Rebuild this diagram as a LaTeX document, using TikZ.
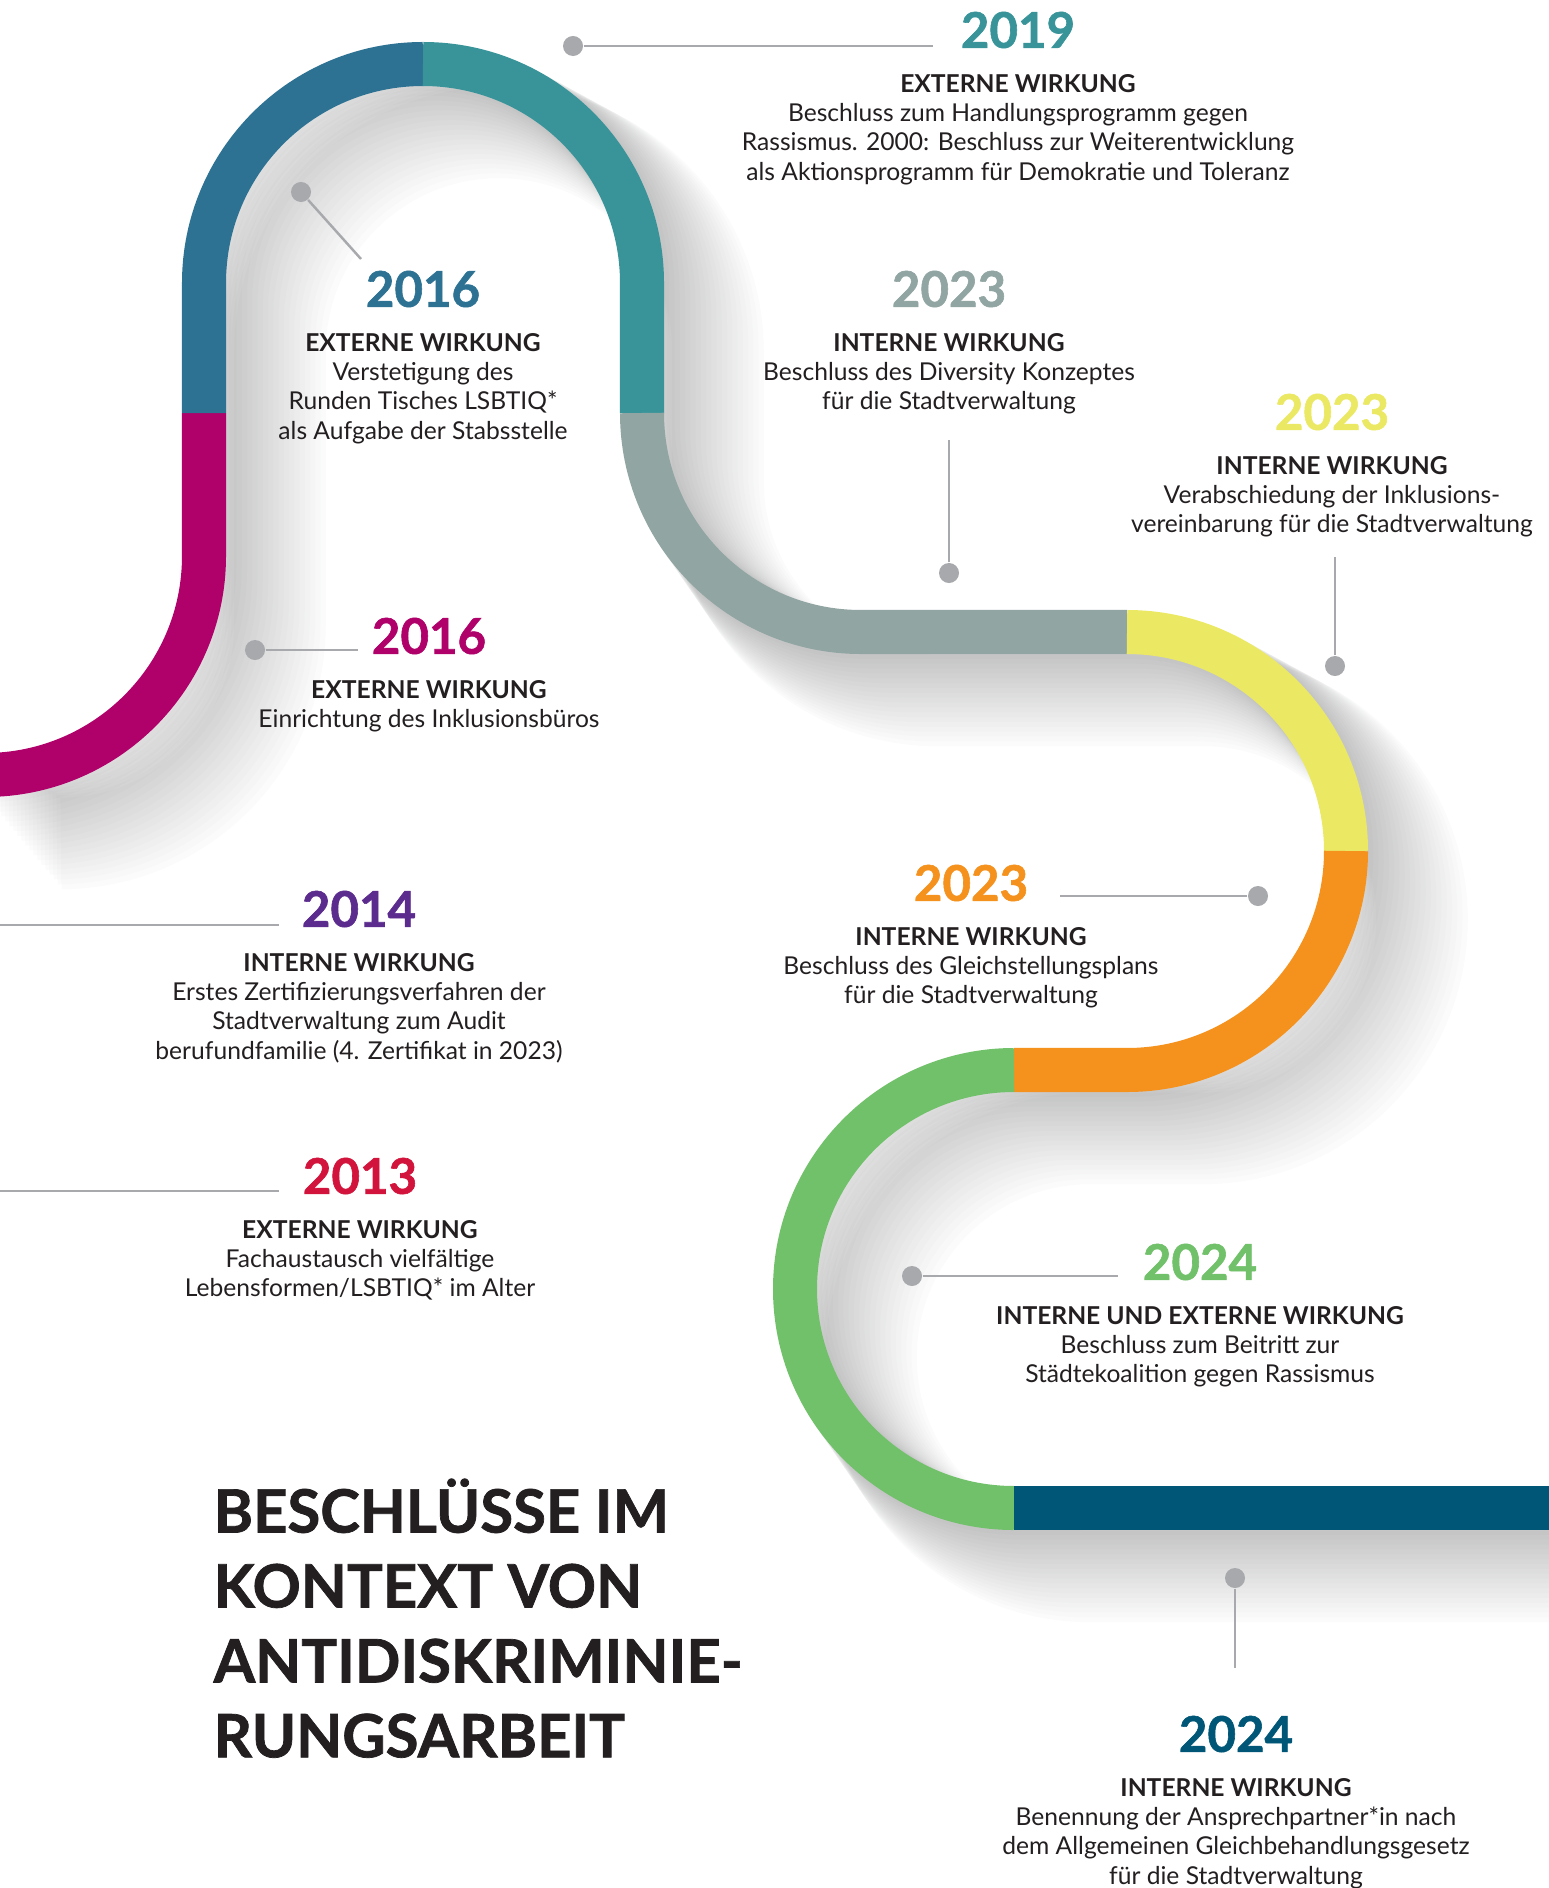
\documentclass[tikz,border=0pt]{standalone}
\usepackage{fontspec}
\setmainfont{Lato}
\newfontfamily\heavyFont[FakeBold=1.2]{Lato}
\usepackage{tikz}
\usetikzlibrary{positioning}

\definecolor{bandBlue}{RGB}{46,114,147}
\definecolor{bandTeal}{RGB}{56,148,153}
\definecolor{bandPink}{RGB}{176,0,106}
\definecolor{bandGrey}{RGB}{145,165,163}
\definecolor{bandYellow}{RGB}{235,233,99}
\definecolor{bandOrange}{RGB}{245,146,30}
\definecolor{bandGreen}{RGB}{113,193,106}
\definecolor{bandNavy}{RGB}{0,86,119}
\definecolor{yearPurple}{RGB}{91,44,142}
\definecolor{yearRed}{RGB}{210,20,60}
\definecolor{textDark}{RGB}{35,31,32}
\definecolor{pinGrey}{RGB}{167,169,172}
\definecolor{shadowGrey}{RGB}{60,62,68}

\tikzset{
  band/.style={line width=4.4mm, line cap=butt},
  yearText/.style={inner sep=0pt, font=\fontsize{14}{14}\selectfont\heavyFont\bfseries},
  infoText/.style={align=center, inner sep=0pt, text=textDark, font=\fontsize{7}{8.35}\selectfont},
  titleText/.style={align=left, inner sep=0pt, text=textDark, font=\fontsize{17}{21.3}\selectfont\heavyFont\bfseries},
  pinDot/.style={circle, fill=pinGrey, inner sep=0pt, minimum size=2mm},
  pinLine/.style={draw=pinGrey, line width=0.7pt},
}

\newcommand{\routePath}{(-15,-775) arc[start angle=-90,end angle=0,radius=219] -- (204,-283) arc[start angle=180,end angle=0,radius=219] -- (642,-413) arc[start angle=180,end angle=270,radius=219] -- (1127,-632) arc[start angle=90,end angle=-90,radius=219] -- (1014,-1070) arc[start angle=90,end angle=270,radius=219] -- (1560,-1508)}

\begin{document}
\begin{tikzpicture}[x=0.01cm, y=0.01cm]
	\fill[white] (0,0) rectangle (1549,-1888);
	\useasboundingbox (0,0) rectangle (1549,-1888);

	\foreach \s in {1,...,19}{
		\pgfmathsetmacro{\shadowWidth}{4.4+0.25*\s}
		\draw[line width=\shadowWidth mm, shadowGrey, opacity=0.014, shift={({4*\s},{-3.6*\s})}] \routePath;
	}

	\draw[band, bandPink] (-15,-775) arc[start angle=-90,end angle=0,radius=219] -- (204,-413);
	\draw[band, bandBlue] (204,-413) -- (204,-283) arc[start angle=180,end angle=90,radius=219];
	\draw[band, bandTeal] (423,-64) arc[start angle=90,end angle=0,radius=219] -- (642,-413);
	\draw[band, bandGrey] (642,-413) arc[start angle=180,end angle=270,radius=219] -- (1127,-632);
	\draw[band, bandYellow] (1127,-632) arc[start angle=90,end angle=0,radius=219];
	\draw[band, bandOrange] (1346,-851) arc[start angle=0,end angle=-90,radius=219] -- (1014,-1070);
	\draw[band, bandGreen] (1014,-1070) arc[start angle=90,end angle=270,radius=219];
	\draw[band, bandNavy] (1014,-1508) -- (1560,-1508);

	\node[yearText, text=bandTeal] (year2019) at (1018,-30) {2019};
	\node[infoText, below=7pt of year2019] (text2019) {\textbf{EXTERNE WIRKUNG}\\Beschluss zum Handlungsprogramm gegen\\Rassismus. 2000: Beschluss zur Weiterentwicklung\\als Aktionsprogramm für Demokratie und Toleranz};

	\node[yearText, text=bandBlue] (year2016a) at (423,-289) {2016};
	\node[infoText, below=7pt of year2016a] (text2016a) {\textbf{EXTERNE WIRKUNG}\\Verstetigung des\\Runden Tisches LSBTIQ*\\als Aufgabe der Stabsstelle};

	\node[yearText, text=bandGrey] (year2023a) at (949,-289) {2023};
	\node[infoText, below=7pt of year2023a] (text2023a) {\textbf{INTERNE WIRKUNG}\\Beschluss des Diversity Konzeptes\\für die Stadtverwaltung};

	\node[yearText, text=bandYellow] (year2023b) at (1332,-412) {2023};
	\node[infoText, below=7pt of year2023b] (text2023b) {\textbf{INTERNE WIRKUNG}\\Verabschiedung der Inklusions-\\vereinbarung für die Stadtverwaltung};

	\node[yearText, text=bandPink] (year2016b) at (429,-636) {2016};
	\node[infoText, below=7pt of year2016b] (text2016b) {\textbf{EXTERNE WIRKUNG}\\Einrichtung des Inklusionsbüros};

	\node[yearText, text=yearPurple] (year2014) at (359,-909) {2014};
	\node[infoText, below=7pt of year2014] (text2014) {\textbf{INTERNE WIRKUNG}\\Erstes Zertifizierungsverfahren der\\Stadtverwaltung zum Audit\\berufundfamilie (4. Zertifikat in 2023)};

	\node[yearText, text=bandOrange] (year2023c) at (971,-883) {2023};
	\node[infoText, below=7pt of year2023c] (text2023c) {\textbf{INTERNE WIRKUNG}\\Beschluss des Gleichstellungsplans\\für die Stadtverwaltung};

	\node[yearText, text=yearRed] (year2013) at (360,-1176) {2013};
	\node[infoText, below=7pt of year2013] (text2013) {\textbf{EXTERNE WIRKUNG}\\Fachaustausch vielfältige\\Lebensformen/LSBTIQ* im Alter};

	\node[yearText, text=bandGreen] (year2024a) at (1200,-1262) {2024};
	\node[infoText, below=7pt of year2024a] (text2024a) {\textbf{INTERNE UND EXTERNE WIRKUNG}\\Beschluss zum Beitritt zur\\Städtekoalition gegen Rassismus};

	\node[yearText, text=bandNavy] (year2024b) at (1236,-1734) {2024};
	\node[infoText, below=7pt of year2024b] (text2024b) {\textbf{INTERNE WIRKUNG}\\Benennung der Ansprechpartner*in nach\\dem Allgemeinen Gleichbehandlungsgesetz\\für die Stadtverwaltung};

	\node[titleText, anchor=north west] (title) at (213,-1478) {BESCHLÜSSE IM\\KONTEXT VON\\ANTIDISKRIMINIE-\\RUNGSARBEIT};

	\coordinate (end2019) at (933,-46);
	\coordinate (end2016a) at (361,-259);
	\coordinate (end2023a) at (949,-440);
	\coordinate (end2023b) at (1335,-557);
	\coordinate (end2016b) at (358,-650);
	\coordinate (start2014) at (0,-925);
	\coordinate (end2014) at (279,-925);
	\coordinate (start2013) at (0,-1191);
	\coordinate (end2013) at (279,-1191);
	\coordinate (end2023c) at (1060,-896);
	\coordinate (end2024a) at (1118,-1276);
	\coordinate (end2024b) at (1235,-1668);

	\node[pinDot] (dot2019) at (573,-46) {};
	\node[pinDot] (dot2016a) at (301,-192) {};
	\node[pinDot] (dot2023a) at (949,-573) {};
	\node[pinDot] (dot2023b) at (1335,-666) {};
	\node[pinDot] (dot2016b) at (255,-650) {};
	\node[pinDot] (dot2023c) at (1258,-896) {};
	\node[pinDot] (dot2024a) at (912,-1276) {};
	\node[pinDot] (dot2024b) at (1235,-1578) {};

	\draw[pinLine] (dot2019) -- (end2019);
	\draw[pinLine] (dot2016a) -- (end2016a);
	\draw[pinLine] (dot2023a) -- (end2023a);
	\draw[pinLine] (dot2023b) -- (end2023b);
	\draw[pinLine] (dot2016b) -- (end2016b);
	\draw[pinLine] (start2014) -- (end2014);
	\draw[pinLine] (start2013) -- (end2013);
	\draw[pinLine] (dot2023c) -- (end2023c);
	\draw[pinLine] (dot2024a) -- (end2024a);
	\draw[pinLine] (dot2024b) -- (end2024b);
\end{tikzpicture}
\end{document}
